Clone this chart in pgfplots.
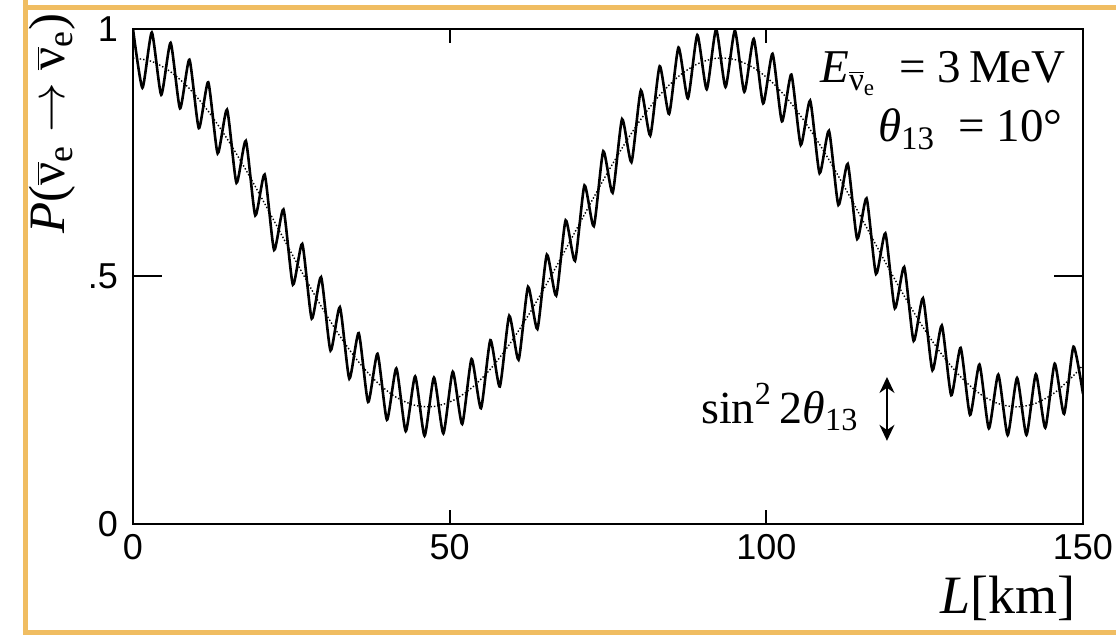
\documentclass[border=0pt]{standalone}
\usepackage{fontspec}
\usepackage{pgfplots}
\usepackage{pgfplotstable}
\pgfplotsset{compat=1.18}
\usetikzlibrary{arrows.meta}
\newfontfamily\tms{Liberation Serif}
\newfontfamily\sansfont{Liberation Sans}
\definecolor{frameorange}{RGB}{240,189,98}
\newcommand\nub{\ensuremath{\overline{\mbox{\tms ν}}}}

\pgfplotstableread{
L P
0 1.0000
1.485 0.8812
2.970 0.9929
4.455 0.8671
5.940 0.9720
7.425 0.8396
8.910 0.9380
10.395 0.7996
11.880 0.8924
13.365 0.7488
14.850 0.8370
16.335 0.6893
17.820 0.7740
19.305 0.6234
20.790 0.7059
22.275 0.5538
23.760 0.6355
25.245 0.4834
26.730 0.5658
28.215 0.4150
29.700 0.4987
31.185 0.3504
32.670 0.4380
34.155 0.2937
35.640 0.3857
37.125 0.2464
38.610 0.3439
40.095 0.2105
41.580 0.3143
43.065 0.1875
44.550 0.2981
46.035 0.1782
47.520 0.2958
49.005 0.1830
50.490 0.3077
51.975 0.2019
53.460 0.3333
54.945 0.2338
56.430 0.3714
57.915 0.2777
59.400 0.4206
60.885 0.3318
62.370 0.4790
63.855 0.3939
65.340 0.5441
66.825 0.4614
68.310 0.6133
69.795 0.5316
71.280 0.6838
72.765 0.6017
74.250 0.7530
75.735 0.6691
77.220 0.8179
78.705 0.7310
80.190 0.8760
81.675 0.7848
83.160 0.9249
84.645 0.8283
86.130 0.9627
87.615 0.8599
89.100 0.9878
90.585 0.8783
92.070 0.9993
93.555 0.8828
95.040 0.9967
96.525 0.8731
98.010 0.9800
99.495 0.8496
100.980 0.9500
102.465 0.8134
103.950 0.9079
105.435 0.7658
106.920 0.8553
108.405 0.7087
109.890 0.7943
111.375 0.6445
112.860 0.7275
114.345 0.5758
115.830 0.6576
117.315 0.5052
118.800 0.5871
120.285 0.4357
121.770 0.5191
123.255 0.3700
124.740 0.4561
126.225 0.3106
127.710 0.4010
129.195 0.2600
130.680 0.3558
132.165 0.2204
133.650 0.3222
135.135 0.1932
136.620 0.3017
138.105 0.1796
139.590 0.2950
141.075 0.1800
142.560 0.3025
144.045 0.1945
145.530 0.3238
147.015 0.2225
148.500 0.3582
150.000 0.2628
}\fast

\pgfplotstableread{
L P
0 0.9415
2.97 0.9344
5.94 0.9135
8.91 0.8795
11.88 0.8339
14.85 0.7785
17.82 0.7155
20.79 0.6474
23.76 0.5770
26.73 0.5073
29.70 0.4402
32.67 0.3795
35.64 0.3272
38.61 0.2854
41.58 0.2558
44.55 0.2396
47.52 0.2373
50.49 0.2492
53.46 0.2748
56.43 0.3129
59.40 0.3621
62.37 0.4205
65.34 0.4856
68.31 0.5548
71.28 0.6253
74.25 0.6945
77.22 0.7594
80.19 0.8175
83.16 0.8664
86.13 0.9042
89.10 0.9293
92.07 0.9408
95.04 0.9382
98.01 0.9215
100.98 0.8915
103.95 0.8494
106.92 0.7968
109.89 0.7358
112.86 0.6690
115.83 0.5991
118.80 0.5286
121.77 0.4606
124.74 0.3976
127.71 0.3425
130.68 0.2973
133.65 0.2637
136.62 0.2432
139.59 0.2365
142.56 0.2440
145.53 0.2653
148.50 0.2997
150.00 0.3213
}\smoothc

\begin{document}
\begin{tikzpicture}
\useasboundingbox (-66.5pt,-55.5pt) rectangle (491.5pt,262pt);
\fill[white] (-66.5pt,-55.5pt) rectangle (491.5pt,262pt);
\begin{axis}[
  at={(0,0)}, anchor=south west,
  scale only axis, width=475pt, height=247.5pt,
  xmin=0, xmax=150, ymin=0, ymax=1,
  xtick={0,50,100,150}, xticklabels={0,50,100,150},
  ytick={0,0.5,1}, yticklabels={0,.5,1},
  tick align=inside,
  axis line style={line width=1.4pt},
  every tick/.style={black, line width=1pt},
  every major x tick/.append style={/pgfplots/major tick length=7pt},
  every major y tick/.append style={/pgfplots/major tick length=14.5pt},
  ticklabel style={font=\sansfont\fontsize{18}{20}\selectfont},
  xticklabel style={yshift=-1.5pt},
  yticklabel style={xshift=-4pt},
  every axis y label/.style={at={(axis description cs:-0.0716,0.809)}, anchor=base, rotate=90},
  every axis x label/.style={at={(axis description cs:1,-0.180)}, anchor=base east},
  ylabel={\tms\fontsize{25.5}{29}\selectfont\textit{P}(\nub\textsubscript{e} $\rightarrow$ \nub\textsubscript{e})},
  xlabel={\tms\fontsize{27}{30}\selectfont\textit{L}[km]},
  clip=true,
]
\addplot[black, line width=1.3pt, smooth, tension=0.36] table[x=L, y=P] {\fast};
\addplot[black, line width=0.7pt, densely dotted, smooth] table[x=L, y=P] {\smoothc};
\node[anchor=base east, font=\tms\fontsize{23.5}{27}\selectfont] at (axis cs:148.4,0.891) {\textit{E}\textsubscript{\nub\textsubscript{e}}\enspace=\ 3\,MeV};
\node[anchor=base east, font=\tms\fontsize{23.5}{27}\selectfont] at (axis cs:147.9,0.772) {\textit{θ}\textsubscript{13}\enspace=\ 10°};
\node[anchor=base west, font=\tms\fontsize{23}{27}\selectfont] at (axis cs:88.6,0.204) {sin\textsuperscript{2}\,2\textit{θ}\textsubscript{13}};
\draw[{Stealth[length=8pt,width=7.5pt]}-{Stealth[length=8pt,width=7.5pt]}, line width=1pt] (axis cs:119.05,0.297) -- (axis cs:119.05,0.168);
\end{axis}
\draw[frameorange, line width=2.5pt] (-55pt,258.25pt) -- (491.5pt,258.25pt);
\draw[frameorange, line width=2.5pt] (-53.75pt,262pt) -- (-53.75pt,-55.5pt);
\draw[frameorange, line width=2.5pt] (-55pt,-54.25pt) -- (491.5pt,-54.25pt);
\end{tikzpicture}
\end{document}
